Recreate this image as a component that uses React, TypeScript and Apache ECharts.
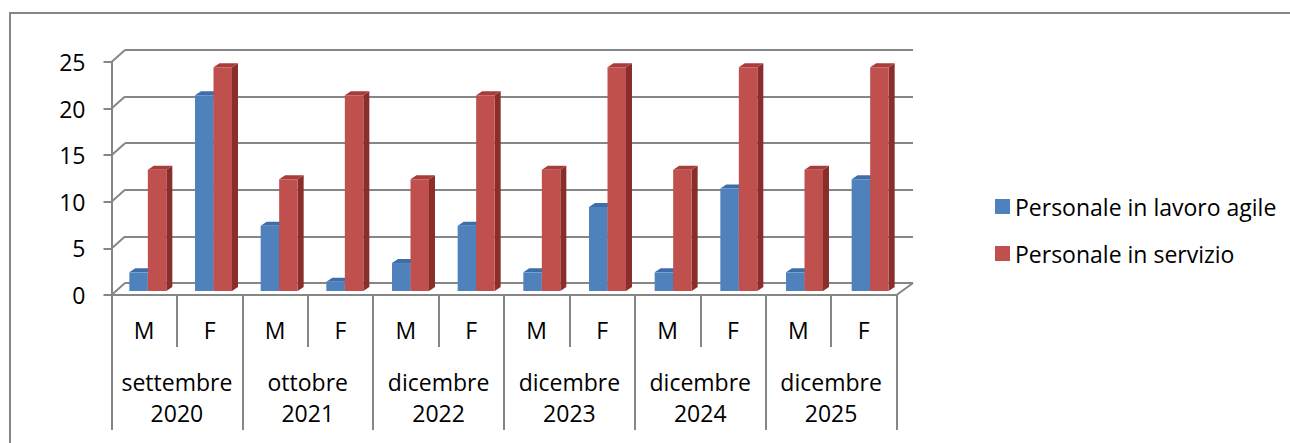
import React, { useEffect, useRef } from "react";
import * as echarts from "echarts";

const subCategories = ["M", "F", "M", "F", "M", "F", "M", "F", "M", "F", "M", "F"];
const periods = [
  "settembre\n2020",
  "ottobre\n2021",
  "dicembre\n2022",
  "dicembre\n2023",
  "dicembre\n2024",
  "dicembre\n2025",
];
const agile = [2, 21, 7, 1, 3, 7, 2, 9, 2, 11, 2, 12];
const servizio = [13, 24, 12, 21, 12, 21, 13, 24, 13, 24, 13, 24];
const yTicks = [0, 5, 10, 15, 20, 25];
const seriesNames = ["Personale in lavoro agile", "Personale in servizio"];

const FONT = "Open Sans";
const FS = 23;
const GRID_COLOR = "#868686";
const BW = 18.5;
const DX = 6;
const DY = -4;

const faces = [
  { front: "#4F81BD", top: "#3E6DA8", side: "#36598A" },
  { front: "#C0504D", top: "#A63D3A", side: "#8A2E2C" },
];

function makeBarRenderer(idx: number) {
  const c = faces[idx];
  return (params: any, api: any) => {
    const i = api.value(0);
    const v = api.value(1);
    const base = api.coord([i, 0]);
    const top = api.coord([i, v]);
    const x0 = base[0] + (idx === 0 ? -BW : 0);
    const x1 = x0 + BW;
    const yb = base[1];
    const yt = top[1];
    return {
      type: "group",
      children: [
        {
          type: "polygon",
          shape: { points: [[x1, yt], [x1 + DX, yt + DY], [x1 + DX, yb + DY], [x1, yb]] },
          style: { fill: c.side },
        },
        {
          type: "polygon",
          shape: { points: [[x0, yt], [x1, yt], [x1 + DX, yt + DY], [x0 + DX, yt + DY]] },
          style: { fill: c.top },
        },
        {
          type: "rect",
          shape: { x: x0, y: yt, width: BW, height: yb - yt },
          style: { fill: c.front },
        },
      ],
    };
  };
}

export default function App() {
  const ref = useRef<HTMLDivElement>(null);
  useEffect(() => {
    if (!ref.current) return;
    const chart = echarts.init(ref.current, null, { renderer: "svg" });
    const lineStyle = { color: GRID_COLOR, width: 2 };
    const option: any = {
      animation: false,
      backgroundColor: "#ffffff",
      textStyle: { fontFamily: FONT },
      graphic: [
        {
          type: "rect",
          shape: { x: 10, y: 13, width: 1300, height: 450 },
          style: { fill: "none", stroke: GRID_COLOR, lineWidth: 2 },
          silent: true,
          z: -10,
        },
      ],
      legend: {
        orient: "vertical",
        left: 990,
        top: 190,
        itemWidth: 15,
        itemHeight: 15,
        itemGap: 24,
        icon: "rect",
        data: seriesNames,
        textStyle: { fontFamily: FONT, fontSize: 23, color: "#000", lineHeight: 23 },
      },
      grid: [
        { left: 125, top: 50, width: 788, height: 233 },
        { left: 111.5, top: 62, width: 785, height: 233 },
        { left: 115, top: 58, width: 788, height: 233 },
      ],
      xAxis: [
        { gridIndex: 0, type: "value", min: 0, max: 1, show: false },
        {
          gridIndex: 1,
          type: "category",
          data: subCategories,
          position: "bottom",
          offset: 0,
          axisLine: { show: true, lineStyle },
          axisTick: { show: true, interval: 0, length: 52, lineStyle },
          axisLabel: {
            interval: 0,
            margin: 35,
            verticalAlign: "middle",
            fontFamily: FONT,
            fontSize: FS,
            color: "#000",
          },
          splitLine: { show: false },
        },
        {
          gridIndex: 1,
          type: "category",
          data: periods,
          position: "bottom",
          offset: 0,
          axisLine: { show: false },
          axisTick: { show: true, interval: 0, length: 135, lineStyle },
          axisLabel: {
            interval: 0,
            margin: 102,
            verticalAlign: "middle",
            lineHeight: 31,
            fontFamily: FONT,
            fontSize: FS,
            color: "#000",
          },
          splitLine: { show: false },
        },
        { gridIndex: 2, type: "category", data: subCategories, show: false },
      ],
      yAxis: [
        {
          gridIndex: 0,
          type: "value",
          min: 0,
          max: 25,
          interval: 5,
          axisLine: { show: false },
          axisTick: { show: false },
          axisLabel: { show: false },
          splitLine: { show: true, lineStyle },
        },
        {
          gridIndex: 1,
          type: "value",
          min: 0,
          max: 25,
          interval: 5,
          axisLine: { show: true, lineStyle },
          axisTick: { show: true, length: 8, lineStyle },
          axisLabel: { margin: 26, fontFamily: FONT, fontSize: FS, color: "#000" },
          splitLine: { show: false },
        },
        { gridIndex: 2, type: "value", min: 0, max: 25, interval: 5, show: false },
      ],
      series: [
        {
          type: "custom",
          name: "walls",
          xAxisIndex: 1,
          yAxisIndex: 1,
          silent: true,
          data: yTicks.map((v) => [0, v]),
          encode: { x: 0, y: 1 },
          renderItem: (params: any, api: any) => {
            const cs = params.coordSys;
            const v = api.value(1);
            const p = api.coord([0, v]);
            const children: any[] = [
              {
                type: "line",
                shape: { x1: cs.x, y1: p[1], x2: cs.x + 13.5, y2: p[1] - 12 },
                style: { stroke: GRID_COLOR, lineWidth: 2 },
              },
            ];
            if (v === 0) {
              children.push({
                type: "line",
                shape: { x1: cs.x + cs.width, y1: p[1], x2: cs.x + cs.width + 16.5, y2: p[1] - 12 },
                style: { stroke: GRID_COLOR, lineWidth: 2 },
              });
            }
            return { type: "group", children };
          },
        },
        {
          type: "custom",
          name: seriesNames[0],
          xAxisIndex: 3,
          yAxisIndex: 2,
          itemStyle: { color: faces[0].front },
          data: agile.map((v, i) => [i, v]),
          encode: { x: 0, y: 1 },
          renderItem: makeBarRenderer(0),
        },
        {
          type: "custom",
          name: seriesNames[1],
          xAxisIndex: 3,
          yAxisIndex: 2,
          itemStyle: { color: faces[1].front },
          data: servizio.map((v, i) => [i, v]),
          encode: { x: 0, y: 1 },
          renderItem: makeBarRenderer(1),
        },
      ],
    };
    chart.setOption(option);
    return () => chart.dispose();
  }, []);
  return (
    <div
      ref={ref}
      style={{ position: "absolute", left: 0, top: 0, width: 1290, height: 443 }}
    />
  );
}
